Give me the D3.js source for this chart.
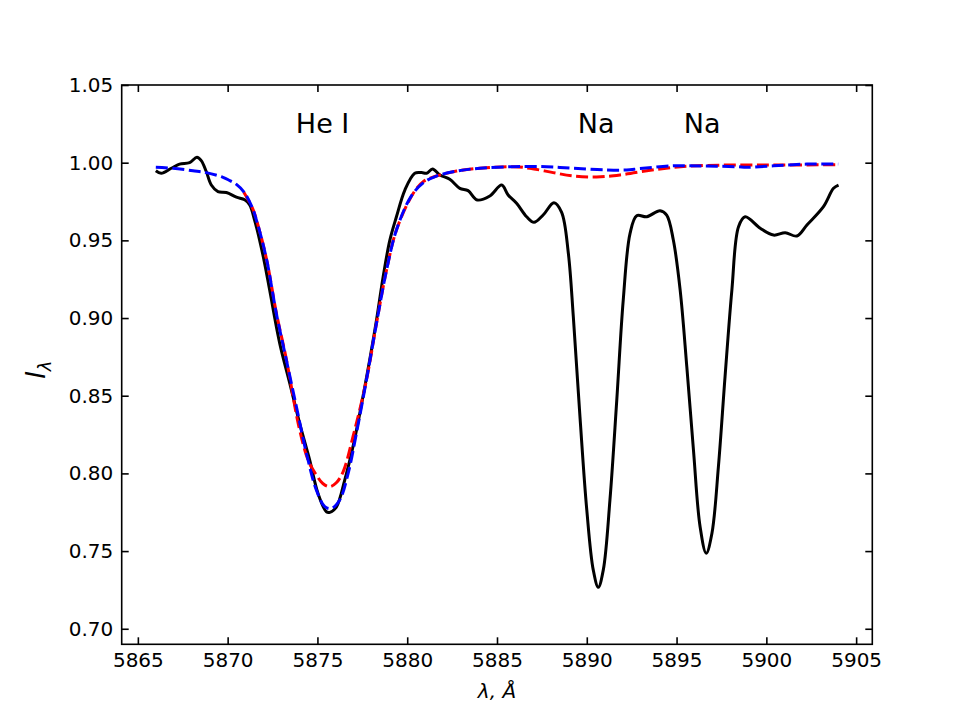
<!DOCTYPE html>
<html>
<head>
<meta charset="utf-8">
<script src="https://cdn.jsdelivr.net/npm/d3@7"></script>
<style>
  body { margin: 0; background: #fff; }
  svg { font-family: "DejaVu Sans", sans-serif; }
</style>
</head>
<body>
<div id="chart"></div>
<script>
// Observed spectrum (black)
const obsWave = [5866.0, 5866.3, 5866.86, 5867.32, 5867.88, 5868.29, 5868.53, 5868.81, 5869.09, 5869.46,
  5869.93, 5870.49, 5870.95, 5871.23, 5871.5, 5871.78, 5872.06, 5872.34, 5872.9, 5873.46,
  5874.01, 5874.57, 5875.03, 5875.5, 5875.69, 5876.06, 5876.52, 5876.98, 5877.36, 5877.91,
  5878.29, 5878.66, 5879.03, 5879.4, 5879.87, 5880.42, 5880.8, 5881.08, 5881.41, 5881.82,
  5882.37, 5882.93, 5883.39, 5883.9, 5884.6, 5885.26, 5885.62, 5886.09, 5886.65, 5887.06,
  5887.57, 5888.17, 5888.6, 5888.97, 5889.25, 5889.62, 5890.0, 5890.36, 5890.64, 5890.92,
  5891.29, 5891.67, 5892.03, 5892.41, 5892.78, 5893.34, 5894.08, 5894.45, 5894.82, 5895.2,
  5895.57, 5895.94, 5896.31, 5896.65, 5896.97, 5897.33, 5897.7, 5898.08, 5898.45, 5898.82,
  5899.66, 5900.4, 5901.05, 5901.7, 5902.26, 5903.18, 5903.74, 5904.02];
const obsFlux = [0.9948, 0.9932, 0.9964, 0.9991, 1.0000, 1.0035, 1.0013, 0.9943, 0.9856, 0.9814,
  0.9808, 0.9778, 0.9761, 0.9728, 0.9631, 0.9502, 0.9352, 0.9180, 0.8837, 0.8580,
  0.8322, 0.8086, 0.7872, 0.7753, 0.7749, 0.7785, 0.7957, 0.8172, 0.8387, 0.8730,
  0.8987, 0.9266, 0.9500, 0.9652, 0.9824, 0.9932, 0.9936, 0.9932, 0.9959, 0.9921,
  0.9893, 0.9835, 0.9820, 0.9760, 0.9786, 0.9856, 0.9792, 0.9739, 0.9652, 0.9616,
  0.9663, 0.9742, 0.9680, 0.9420, 0.9009, 0.8365, 0.7765, 0.7379, 0.7267, 0.7379,
  0.7829, 0.8472, 0.9116, 0.9545, 0.9659, 0.9652, 0.9691, 0.9663, 0.9502, 0.9180,
  0.8687, 0.8151, 0.7657, 0.7486, 0.7615, 0.8043, 0.8623, 0.9180, 0.9588, 0.9652,
  0.9578, 0.9534, 0.9549, 0.9528, 0.9599, 0.9717, 0.9835, 0.9856];

// Model 1 (red dashed)
const redWave = [5870.9, 5871.41, 5871.78, 5872.2, 5872.71, 5873.27, 5873.97, 5874.5, 5874.94, 5875.3,
  5875.69, 5876.05, 5876.43, 5876.98, 5877.73, 5878.29, 5878.85, 5879.4, 5880.33, 5880.89,
  5881.63, 5882.75, 5884.04, 5885.9, 5886.83, 5888.13, 5889.25, 5890.55, 5891.85, 5893.89,
  5895.75, 5897.98, 5900.77, 5904.0];
const redFlux = [0.9810, 0.9700, 0.9560, 0.9360, 0.9035, 0.8735, 0.8300, 0.8080, 0.7990, 0.7935,
  0.7915, 0.7940, 0.8010, 0.8236, 0.8601, 0.8966, 0.9309, 0.9567, 0.9802, 0.9878,
  0.9914, 0.9946, 0.9964, 0.9974, 0.9964, 0.9936, 0.9914, 0.9908, 0.9921, 0.9957,
  0.9978, 0.9985, 0.9985, 0.9987];

// Model 2 (blue dashed)
const blueWave = [5866.0, 5866.95, 5868.07, 5868.81, 5869.74, 5870.11, 5870.49, 5870.95, 5871.41, 5871.6,
  5871.78, 5872.2, 5872.71, 5873.27, 5873.83, 5874.39, 5874.94, 5875.41, 5875.78, 5876.24,
  5876.71, 5877.17, 5877.73, 5878.29, 5878.85, 5879.4, 5880.2, 5880.89, 5881.63, 5882.75,
  5884.04, 5885.9, 5887.76, 5889.25, 5891.11, 5892.22, 5892.97, 5894.82, 5896.68, 5898.36,
  5898.91, 5900.4, 5902.26, 5904.0];
const blueFlux = [0.9970, 0.9964, 0.9948, 0.9936, 0.9906, 0.9885, 0.9860, 0.9805, 0.9700, 0.9631,
  0.9560, 0.9360, 0.9030, 0.8730, 0.8429, 0.8129, 0.7893, 0.7786, 0.7775, 0.7829,
  0.8000, 0.8258, 0.8601, 0.8966, 0.9309, 0.9567, 0.9780, 0.9870, 0.9914, 0.9946,
  0.9964, 0.9974, 0.9974, 0.9964, 0.9953, 0.9953, 0.9962, 0.9980, 0.9978, 0.9974,
  0.9970, 0.9980, 0.9991, 0.9991];

// Line labels
const labelText = ["He I", "Na", "Na"];
const labelWave = [5873.8, 5889.5, 5895.4];
const labelFlux = [1.019, 1.019, 1.019];

const xTicks = [5865, 5870, 5875, 5880, 5885, 5890, 5895, 5900, 5905];
const yTicks = [0.70, 0.75, 0.80, 0.85, 0.90, 0.95, 1.00, 1.05];

// Dimensions
const margin = {top: 85, right: 95.7, bottom: 80.7, left: 121.7},
    width = 968 - margin.left - margin.right,
    height = 725 - margin.top - margin.bottom;

const xScale = d3.scaleLinear()
    .domain([5864.1, 5905.9])
    .range([0, width]);

const yScale = d3.scaleLinear()
    .domain([0.69, 1.05])
    .range([height, 0]);

const svg = d3.select("#chart").append("svg")
    .attr("width", 968)
    .attr("height", 725)
    .append("g")
    .attr("transform", "translate(" + margin.left + "," + margin.top + ")");

const line = d3.line()
    .x(d => xScale(d[0]))
    .y(d => yScale(d[1]))
    .curve(d3.curveCatmullRom.alpha(0.5));

const series = [
  {wave: obsWave, flux: obsFlux, color: "#000000", dash: null},
  {wave: redWave, flux: redFlux, color: "#ff0000", dash: "12,4.5"},
  {wave: blueWave, flux: blueFlux, color: "#0000ff", dash: "12,4.5"}
];

series.forEach(s => {
  svg.append("path")
      .datum(s.wave.map((w, i) => [w, s.flux[i]]))
      .attr("fill", "none")
      .attr("stroke", s.color)
      .attr("stroke-width", 3)
      .attr("stroke-dasharray", s.dash)
      .attr("d", line);
});

// Text labels for the lines
svg.selectAll(".lab")
    .data(labelText)
    .enter().append("text")
    .attr("x", (d, i) => xScale(labelWave[i]))
    .attr("y", (d, i) => yScale(labelFlux[i]))
    .attr("font-size", "27px")
    .attr("fill", "#000")
    .text(d => d);

// Axes, ticks pointing inward on all sides
const tickLen = 7;
function styleAxis(g) {
  g.select(".domain").remove();
  g.selectAll(".tick line").attr("stroke", "#000").attr("stroke-width", 1.6);
  g.selectAll(".tick text").attr("fill", "#000").attr("font-size", "20px")
      .attr("font-family", "DejaVu Sans, sans-serif");
}

svg.append("g")
    .attr("transform", "translate(0," + height + ")")
    .call(d3.axisBottom(xScale).tickValues(xTicks).tickSize(-tickLen).tickPadding(9).tickFormat(d3.format("d")))
    .call(styleAxis);

svg.append("g")
    .call(d3.axisTop(xScale).tickValues(xTicks).tickSize(-tickLen).tickFormat(""))
    .call(styleAxis);

svg.append("g")
    .call(d3.axisLeft(yScale).tickValues(yTicks).tickSize(-tickLen).tickPadding(8.5).tickFormat(d3.format(".2f")))
    .call(styleAxis);

svg.append("g")
    .attr("transform", "translate(" + width + ",0)")
    .call(d3.axisRight(yScale).tickValues(yTicks).tickSize(-tickLen).tickFormat(""))
    .call(styleAxis);

// Frame
svg.append("rect")
    .attr("width", width)
    .attr("height", height)
    .attr("fill", "none")
    .attr("stroke", "#000")
    .attr("stroke-width", 1.6);

// Axis labels
svg.append("text")
    .attr("x", width / 2)
    .attr("y", height + 54)
    .attr("text-anchor", "middle")
    .attr("font-size", "20px")
    .attr("font-style", "italic")
    .text("λ, Å");

const yLab = svg.append("text")
    .attr("transform", "translate(" + (45 - margin.left) + "," + (height / 2 + 5) + ") rotate(-90)")
    .attr("text-anchor", "middle")
    .attr("font-size", "26px")
    .attr("font-style", "italic");
yLab.append("tspan").text("I");
yLab.append("tspan").attr("font-size", "18px").attr("dy", 6).text("λ");
</script>
</body>
</html>
